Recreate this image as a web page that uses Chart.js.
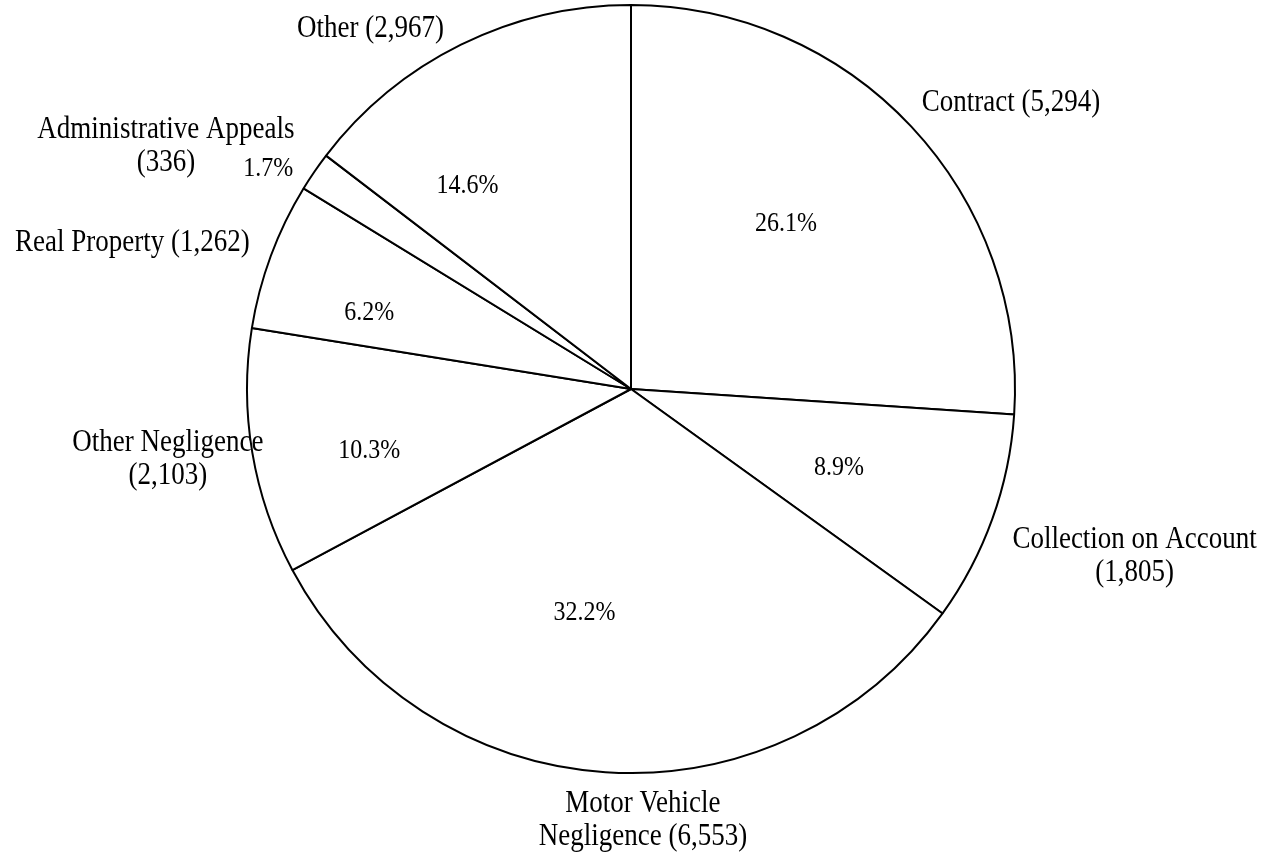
<!DOCTYPE html>
<html>
<head>
<meta charset="utf-8">
<script src="https://cdn.jsdelivr.net/npm/chart.js@4.4.1/dist/chart.umd.min.js"></script>
<style>
  html, body { margin: 0; padding: 0; background: #ffffff; }
  #wrap { position: relative; width: 1277px; height: 855px; }
</style>
</head>
<body>
<div id="wrap"><canvas id="c"></canvas></div>
<script>
// ---- data ----
const categories = [
  'Contract',
  'Collection on Account',
  'Motor Vehicle Negligence',
  'Other Negligence',
  'Real Property',
  'Administrative Appeals',
  'Other'
];
const caseCounts = [5294, 1805, 6553, 2103, 1262, 336, 2967];
const outerLabelLines = [
  ['Contract (5,294)'],
  ['Collection on Account', '(1,805)'],
  ['Motor Vehicle', 'Negligence (6,553)'],
  ['Other Negligence', '(2,103)'],
  ['Real Property (1,262)'],
  ['Administrative Appeals', '(336)'],
  ['Other (2,967)']
];

// ---- label placement (polar, relative to each arc: [radius factor, angle offset deg from slice middle]) ----
const outerPlacement = [
  [1.239, 6.1], [1.382, -1.4], [1.125, -5.4], [1.22, 0.8], [1.353, -4.0], [1.366, -6.9], [1.157, -9.6]
];
const pctPlacement = [
  [0.59, -3.7], [0.58, 1.1], [0.595, 7.9], [0.70, -3.7], [0.71, -4.1], [1.105, -3.2], [0.68, -12.5]
];

const total = caseCounts.reduce((a, b) => a + b, 0);
const textStretchY = 1.13;

function drawStretched(ctx, text, x, y) {
  ctx.save();
  ctx.translate(x, y);
  ctx.scale(1, textStretchY);
  ctx.fillText(text, 0, 0);
  ctx.restore();
}

const labelPlugin = {
  id: 'sliceLabels',
  afterDatasetsDraw(chart) {
    const ctx = chart.ctx;
    const arcs = chart.getDatasetMeta(0).data;
    ctx.save();
    ctx.fillStyle = '#000';
    ctx.textAlign = 'center';
    ctx.textBaseline = 'middle';
    arcs.forEach((arc, i) => {
      const p = arc.getProps(['x', 'y', 'startAngle', 'endAngle', 'outerRadius'], true);
      const mid = (p.startAngle + p.endAngle) / 2;
      // percent label
      const [pf, pa] = pctPlacement[i];
      const a1 = mid + pa * Math.PI / 180;
      ctx.font = '24px "Liberation Serif", "Times New Roman", serif';
      const pct = (caseCounts[i] / total * 100).toFixed(1) + '%';
      drawStretched(ctx, pct, p.x + Math.cos(a1) * p.outerRadius * pf, p.y + Math.sin(a1) * p.outerRadius * pf);
      // outer label
      const [of, oa] = outerPlacement[i];
      const a2 = mid + oa * Math.PI / 180;
      const cx = p.x + Math.cos(a2) * p.outerRadius * of;
      const cy = p.y + Math.sin(a2) * p.outerRadius * of;
      ctx.font = '27px "Liberation Serif", "Times New Roman", serif';
      const lines = outerLabelLines[i];
      const lh = 33;
      lines.forEach((ln, k) => {
        drawStretched(ctx, ln, cx, cy + (k - (lines.length - 1) / 2) * lh);
      });
    });
    ctx.restore();
  }
};

new Chart(document.getElementById('c'), {
  type: 'pie',
  data: {
    labels: categories,
    datasets: [{
      data: caseCounts,
      backgroundColor: '#ffffff',
      borderColor: '#000000',
      borderWidth: 2,
      borderAlign: 'center'
    }]
  },
  options: {
    responsive: true,
    maintainAspectRatio: false,
    animation: false,
    layout: { padding: { top: 4, bottom: 81, left: 0, right: 15 } },
    plugins: {
      legend: { display: false },
      tooltip: { enabled: false }
    }
  },
  plugins: [labelPlugin]
});
</script>
</body>
</html>
